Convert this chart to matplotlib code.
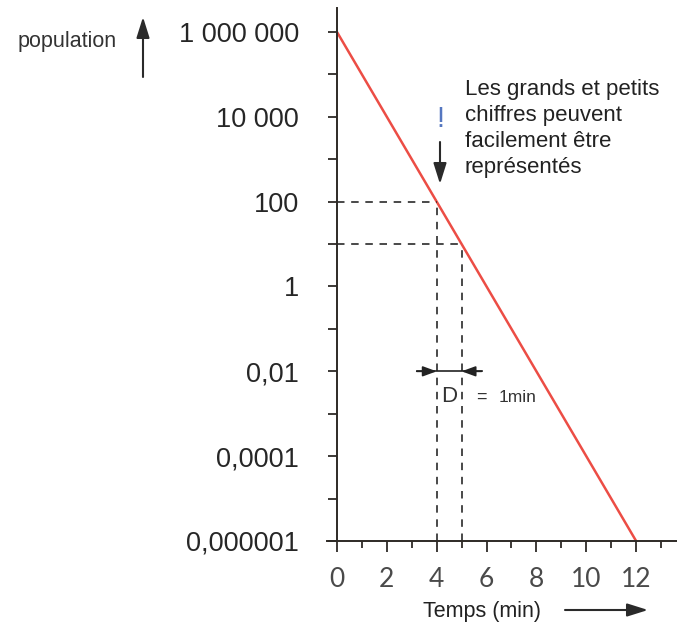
import matplotlib
matplotlib.use('Agg')
import matplotlib.pyplot as plt
from matplotlib.patches import FancyArrowPatch
from matplotlib.ticker import NullFormatter

plt.rcParams['font.family'] = ['Liberation Sans', 'DejaVu Sans']

# ---- data ----
time_min = [0, 12]
population = [1e6, 1e-6]
ref_time = [4, 5]
ref_pop = [100, 10]
ytick_vals = [1e6, 1e4, 1e2, 1, 1e-2, 1e-4, 1e-6]
ytick_labels = ['1 000 000', '10 000', '100', '1', '0,01', '0,0001', '0,000001']
yminor_vals = [1e5, 1e3, 10, 0.1, 1e-3, 1e-5]
xtick_vals = [0, 2, 4, 6, 8, 10, 12]
xtick_labels = ['0', '2', '4', '6', '8', '10', '12']
xminor_vals = [1, 3, 5, 7, 9, 11, 13]
d_level = 0.01
note_lines = ['Les grands et petits', 'chiffres peuvent', 'facilement être', 'représentés']

W, H = 677, 624
fig = plt.figure(figsize=(W / 100, H / 100), dpi=100)
fig.patch.set_facecolor('white')


def fx(px):
    return px / W


def fy(py):
    return 1 - py / H


ax = fig.add_axes([fx(327), fy(541), (677 - 327) / W, (541 - 7.8) / H])
ax.set_yscale('log')
ax.set_xlim(-0.4, 13.64)
ax.set_ylim(1e-6, 10 ** 6.57)
for s in ['top', 'right']:
    ax.spines[s].set_visible(False)
ax.spines['left'].set_position(('data', 0))
axis_col = '#2e2a26'
for s in ['left', 'bottom']:
    ax.spines[s].set_color(axis_col)
    ax.spines[s].set_linewidth(1.4)

# main line
ax.plot(time_min, population, color='#ec4d45', lw=1.8, solid_capstyle='butt')

# dashed reference lines
for t, p in zip(ref_time, ref_pop):
    ax.plot([0, t], [p, p], color='#2a2a2a', lw=1.2, ls=(0, (4.5, 4)))
    ax.plot([t, t], [1e-6, p], color='#2a2a2a', lw=1.2, ls=(0, (4.5, 4)))

# ticks
ax.set_yticks(ytick_vals, ytick_labels)
ax.set_yticks(yminor_vals, minor=True)
ax.yaxis.set_minor_formatter(NullFormatter())
ax.tick_params(axis='y', which='both', direction='out', length=6.5, width=1.3,
               color=axis_col, pad=21, labelsize=19.5, labelcolor='#262626')
ax.set_xticks(xtick_vals, xtick_labels)
ax.set_xticks(xminor_vals, minor=True)
ax.tick_params(axis='x', which='major', direction='out', length=8, width=1.3,
               color=axis_col, pad=11, labelsize=19, labelcolor='#4a4a4a')
ax.tick_params(axis='x', which='minor', direction='out', length=5, width=1.3,
               color=axis_col)
for lbl in ax.get_xticklabels():
    lbl.set_fontfamily(['Lato', 'DejaVu Sans'])
    lbl.set_fontweight('normal')

# D = 1 min annotation
ax.plot([3.2, 5.8], [d_level, d_level], color='#222222', lw=1.2)
ax.annotate('', xy=(ref_time[0], d_level), xytext=(3.2, d_level),
            arrowprops=dict(arrowstyle='-|>,head_length=0.6,head_width=0.22',
                            color='#222222', lw=1.2, mutation_scale=14,
                            shrinkA=0, shrinkB=0))
ax.annotate('', xy=(ref_time[1], d_level), xytext=(5.8, d_level),
            arrowprops=dict(arrowstyle='-|>,head_length=0.6,head_width=0.22',
                            color='#222222', lw=1.2, mutation_scale=14,
                            shrinkA=0, shrinkB=0))
ax.text(4.5, 10 ** -2.72, 'D', ha='center', va='baseline', fontsize=16,
        color='#333333')
ax.text(5.6, 10 ** -2.72, '=', ha='left', va='baseline', fontsize=13,
        color='#333333')
ax.text(6.5, 10 ** -2.72, '1min', ha='left', va='baseline', fontsize=12.5,
        color='#333333')

# figure texts
fig.text(fx(18), fy(47), 'population', ha='left', va='baseline', fontsize=15.5,
         color='#333333')
fig.text(fx(423), fy(617), 'Temps (min)', ha='left', va='baseline', fontsize=15.5,
         color='#222222')
for i, line in enumerate(note_lines):
    fig.text(fx(465), fy(95 + 26 * i), line, ha='left', va='baseline',
             fontsize=16, color='#222222')
fig.text(fx(440), fy(127), '!', ha='center', va='baseline', fontsize=21,
         color='#5577c0')


def farrow(p0, p1, hl=0.7, hw=0.22, ms=18, lw=1.5):
    a = FancyArrowPatch((fx(p0[0]), fy(p0[1])), (fx(p1[0]), fy(p1[1])),
                        transform=fig.transFigure,
                        arrowstyle=f'-|>,head_length={hl},head_width={hw}',
                        mutation_scale=ms, lw=lw, color='#2a2a2a',
                        shrinkA=0, shrinkB=0)
    fig.add_artist(a)


farrow((143, 77), (143, 17))
farrow((440, 142), (440, 184))
farrow((565, 610), (648, 610))

fig.savefig('out.png', dpi=100, facecolor='white')
